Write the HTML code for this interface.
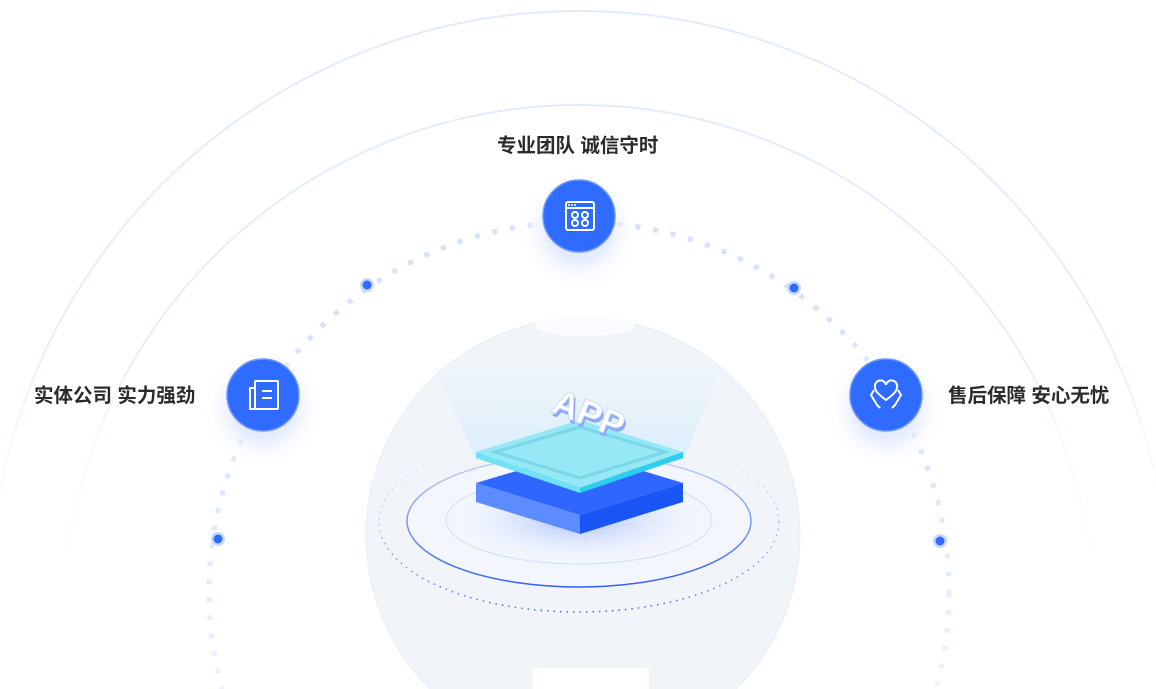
<!DOCTYPE html>
<html><head><meta charset="utf-8"><style>
html,body{margin:0;padding:0;background:#fff;}
body{width:1156px;height:689px;overflow:hidden;position:relative;font-family:"Liberation Sans","Noto Sans CJK SC",sans-serif;}
.t{position:absolute;font-size:19.5px;font-weight:bold;color:#2b2b2b;white-space:nowrap;line-height:20px;}
</style></head><body>
<svg width="1156" height="689" style="position:absolute;left:0;top:0">
<defs>
<radialGradient id="glow"><stop offset="0.5" stop-color="#dfe7ff" stop-opacity="0.8"/><stop offset="1" stop-color="#fff" stop-opacity="0"/></radialGradient>
<radialGradient id="base"><stop offset="0" stop-color="#a9bfff"/><stop offset="1" stop-color="#eef3fd" stop-opacity="0"/></radialGradient>
<linearGradient id="beam" x1="0" y1="0" x2="0" y2="1"><stop offset="0" stop-color="#e6f2fb" stop-opacity="0.3"/><stop offset="1" stop-color="#d9eefb"/></linearGradient>
<linearGradient id="arcg" gradientUnits="userSpaceOnUse" x1="0" y1="0" x2="0" y2="600"><stop offset="0" stop-color="#e3ebfc"/><stop offset="0.6" stop-color="#e8eefc"/><stop offset="1" stop-color="#fff" stop-opacity="0"/></linearGradient>
<linearGradient id="dotg" gradientUnits="userSpaceOnUse" x1="0" y1="200" x2="0" y2="689"><stop offset="0" stop-color="#d5e0fb"/><stop offset="0.6" stop-color="#dde6fb"/><stop offset="1" stop-color="#eef2fc"/></linearGradient>
<linearGradient id="ringg" gradientUnits="userSpaceOnUse" x1="0" y1="440" x2="0" y2="612"><stop offset="0" stop-color="#5a7ff0" stop-opacity="0"/><stop offset="0.5" stop-color="#5a7ff0" stop-opacity="0.5"/><stop offset="1" stop-color="#3f6bf0"/></linearGradient>
<linearGradient id="ring2" gradientUnits="userSpaceOnUse" x1="0" y1="455" x2="0" y2="588"><stop offset="0" stop-color="#c9d6fa"/><stop offset="1" stop-color="#2f5ff5"/></linearGradient>
</defs>
<circle cx="579" cy="600" r="589" fill="none" stroke="url(#arcg)" stroke-width="2"/>
<circle cx="579" cy="621" r="516" fill="none" stroke="url(#arcg)" stroke-width="2"/>
<circle cx="579" cy="592" r="370" fill="none" stroke="url(#dotg)" stroke-width="5" stroke-dasharray="5 13"/>
<!-- center sphere -->
<circle cx="583" cy="535" r="217" fill="#f1f5fa" stroke="#e6edf7"/>
<ellipse cx="585" cy="326" rx="50" ry="10" fill="#fafcff"/>
<rect x="533" y="668" width="116" height="30" fill="#fff"/>
<circle cx="526" cy="342" r="6" fill="none" stroke="#e6edf7"/>
<polygon points="435,368 722,368 683,460 476,460" fill="url(#beam)"/>
<ellipse cx="579" cy="522" rx="200" ry="90" fill="none" stroke="url(#ringg)" stroke-width="1.5" stroke-dasharray="1.5 5"/>
<ellipse cx="579" cy="521" rx="172" ry="66" fill="#f3f6fd" stroke="url(#ring2)" stroke-width="1.5"/>
<ellipse cx="579" cy="520" rx="133" ry="44" fill="url(#base)" stroke="#d2ddfa"/>
<!-- blue slab -->
<polygon points="476,483 580,452 683,483 580,515" fill="#2f66ff"/>
<polygon points="476,483 580,515 580,534 476,502" fill="#5c8cff"/>
<polygon points="580,515 683,483 683,502 580,534" fill="#1a55f5"/>
<!-- cyan slab -->
<polygon points="476,452 580,420 683,452 580,488" fill="#96e8f6"/>
<polygon points="495,452 580,427 665,452 580,478" fill="none" stroke="#7ad7e6" stroke-width="3"/>
<polygon points="476,452 580,488 580,493 476,458" fill="#6fe3f4"/>
<polygon points="580,488 683,452 683,458 580,493" fill="#2bd0ee"/>
<g transform="rotate(22 585 420)" font-family="Liberation Sans" font-weight="bold" font-size="36">
<text x="552" y="428" fill="#8eaaf7">APP</text>
<text x="549" y="425" fill="#fff" stroke="#c5d4fb" stroke-width="0.8">APP</text>
</g>
<!-- glows -->
<circle cx="579" cy="230" r="60" fill="url(#glow)"/>
<circle cx="263" cy="408" r="60" fill="url(#glow)"/>
<circle cx="886" cy="408" r="60" fill="url(#glow)"/>
<!-- nodes -->
<g fill="#2f6bff" stroke="#6d98ff" stroke-width="1.5">
<circle cx="579" cy="216" r="36"/><circle cx="263" cy="395" r="36"/><circle cx="886" cy="395" r="36"/>
</g>
<g fill="none" stroke="#fff" stroke-width="2">
<rect x="566" y="202" width="28" height="28" rx="2"/><line x1="566" y1="208" x2="594" y2="208"/>
<circle cx="575" cy="215" r="3"/><circle cx="585" cy="215" r="3"/><circle cx="575" cy="223" r="3"/><circle cx="585" cy="223" r="3"/>
<rect x="255" y="381" width="23" height="28" rx="1"/><path d="M255 388h-5v21h5"/><line x1="262" y1="391" x2="272" y2="391"/><line x1="262" y1="398" x2="272" y2="398"/>
<path d="M886 400c-8-6-11-9-11-13a5 5 0 0 1 11-2a5 5 0 0 1 11 2c0 4-3 7-11 13z"/>
<path d="M874 390l-3 5 6 10 3 3M898 390l3 5-6 10-3 3"/>
</g>
<g fill="#fff"><circle cx="569" cy="205" r="1"/><circle cx="572" cy="205" r="1"/><circle cx="575" cy="205" r="1"/></g>
<g><circle cx="367" cy="285" r="7" fill="#c9d8ff"/><circle cx="367" cy="285" r="4.5" fill="#2f6bff"/>
<circle cx="794" cy="288" r="7" fill="#c9d8ff"/><circle cx="794" cy="288" r="4.5" fill="#2f6bff"/>
<circle cx="218" cy="539" r="7" fill="#c9d8ff"/><circle cx="218" cy="539" r="4.5" fill="#2f6bff"/>
<circle cx="940" cy="541" r="7" fill="#c9d8ff"/><circle cx="940" cy="541" r="4.5" fill="#2f6bff"/></g>
</svg>
<div class="t" style="left:497px;top:136px">专业团队 诚信守时</div>
<div class="t" style="left:34px;top:386px">实体公司 实力强劲</div>
<div class="t" style="left:948px;top:386px">售后保障 安心无忧</div>
</body></html>
